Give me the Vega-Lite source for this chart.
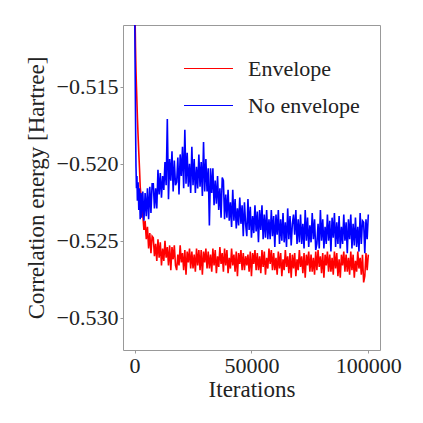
{
"$schema": "https://vega.github.io/schema/vega-lite/v6.json",
"width": 257, "height": 325,
"autosize": {"type": "none"},
"padding": {"left": 123, "top": 25, "right": 43, "bottom": 73},
"config": {
  "view": {"stroke": "#999", "strokeWidth": 1},
  "font": "Liberation Serif",
  "axis": {"grid": false, "domain": false, "tickColor": "#999", "tickSize": 3, "labelFont": "Liberation Serif", "titleFont": "Liberation Serif", "labelFontSize": 22, "titleFontSize": 23, "titleFontWeight": "normal", "labelColor": "#222", "titleColor": "#222", "labelPadding": 2}
},
"data": {"values": [
{"i":0,"a":-0.5080,"b":-0.5080},
{"i":100,"a":-0.5092,"b":-0.5110},
{"i":200,"a":-0.5104,"b":-0.5132},
{"i":300,"a":-0.5115,"b":-0.5150},
{"i":400,"a":-0.5125,"b":-0.5170},
{"i":500,"a":-0.5133,"b":-0.5188},
{"i":600,"a":-0.5140,"b":-0.5202},
{"i":800,"a":-0.5150,"b":-0.5216},
{"i":1000,"a":-0.5160,"b":-0.5208},
{"i":1200,"a":-0.5170,"b":-0.5224},
{"i":1500,"a":-0.5182,"b":-0.5212},
{"i":1800,"a":-0.5193,"b":-0.5230},
{"i":2100,"a":-0.5203,"b":-0.5216},
{"i":2400,"a":-0.5215,"b":-0.5236},
{"i":2700,"a":-0.5220,"b":-0.5219},
{"i":3000,"a":-0.5229,"b":-0.5235},
{"i":3500,"a":-0.5233,"b":-0.5218},
{"i":4000,"a":-0.5243,"b":-0.5237},
{"i":4500,"a":-0.5237,"b":-0.5219},
{"i":5000,"a":-0.5249,"b":-0.5234},
{"i":5500,"a":-0.5241,"b":-0.5216},
{"i":6000,"a":-0.5255,"b":-0.5236},
{"i":6500,"a":-0.5245,"b":-0.5215},
{"i":7000,"a":-0.5258,"b":-0.5232},
{"i":7500,"a":-0.5247,"b":-0.5213},
{"i":8000,"a":-0.5248,"b":-0.5213},
{"i":8500,"a":-0.5260,"b":-0.5229},
{"i":9000,"a":-0.5252,"b":-0.5216},
{"i":9500,"a":-0.5263,"b":-0.5229},
{"i":10000,"a":-0.5249,"b":-0.5204},
{"i":10500,"a":-0.5261,"b":-0.5220},
{"i":11000,"a":-0.5251,"b":-0.5206},
{"i":11500,"a":-0.5266,"b":-0.5222},
{"i":12000,"a":-0.5255,"b":-0.5208},
{"i":12500,"a":-0.5263,"b":-0.5217},
{"i":13000,"a":-0.5250,"b":-0.5199},
{"i":13500,"a":-0.5261,"b":-0.5214},
{"i":14000,"a":-0.5254,"b":-0.5171},
{"i":14500,"a":-0.5266,"b":-0.5223},
{"i":15000,"a":-0.5253,"b":-0.5197},
{"i":15500,"a":-0.5269,"b":-0.5211},
{"i":16000,"a":-0.5254,"b":-0.5192},
{"i":16500,"a":-0.5262,"b":-0.5218},
{"i":17000,"a":-0.5253,"b":-0.5198},
{"i":17500,"a":-0.5266,"b":-0.5214},
{"i":18000,"a":-0.5269,"b":-0.5212},
{"i":18500,"a":-0.5259,"b":-0.5196},
{"i":19000,"a":-0.5266,"b":-0.5220},
{"i":19500,"a":-0.5253,"b":-0.5194},
{"i":20000,"a":-0.5264,"b":-0.5208},
{"i":20500,"a":-0.5258,"b":-0.5189},
{"i":21000,"a":-0.5269,"b":-0.5216},
{"i":21500,"a":-0.5256,"b":-0.5178},
{"i":22000,"a":-0.5272,"b":-0.5213},
{"i":22500,"a":-0.5257,"b":-0.5193},
{"i":23000,"a":-0.5264,"b":-0.5215},
{"i":23500,"a":-0.5255,"b":-0.5200},
{"i":24000,"a":-0.5268,"b":-0.5219},
{"i":24500,"a":-0.5257,"b":-0.5189},
{"i":25000,"a":-0.5268,"b":-0.5214},
{"i":25500,"a":-0.5259,"b":-0.5197},
{"i":26000,"a":-0.5270,"b":-0.5219},
{"i":26500,"a":-0.5255,"b":-0.5202},
{"i":27000,"a":-0.5266,"b":-0.5216},
{"i":27500,"a":-0.5256,"b":-0.5194},
{"i":28000,"a":-0.5269,"b":-0.5215},
{"i":28500,"a":-0.5256,"b":-0.5199},
{"i":29000,"a":-0.5272,"b":-0.5221},
{"i":29500,"a":-0.5257,"b":-0.5186},
{"i":30000,"a":-0.5264,"b":-0.5218},
{"i":30500,"a":-0.5255,"b":-0.5197},
{"i":31000,"a":-0.5268,"b":-0.5218},
{"i":31500,"a":-0.5257,"b":-0.5203},
{"i":32000,"a":-0.5268,"b":-0.5240},
{"i":32500,"a":-0.5259,"b":-0.5203},
{"i":33000,"a":-0.5270,"b":-0.5219},
{"i":33500,"a":-0.5255,"b":-0.5203},
{"i":34000,"a":-0.5266,"b":-0.5227},
{"i":34500,"a":-0.5256,"b":-0.5211},
{"i":35000,"a":-0.5271,"b":-0.5226},
{"i":35500,"a":-0.5260,"b":-0.5208},
{"i":36000,"a":-0.5267,"b":-0.5230},
{"i":36500,"a":-0.5254,"b":-0.5216},
{"i":37000,"a":-0.5265,"b":-0.5235},
{"i":37500,"a":-0.5258,"b":-0.5209},
{"i":38000,"a":-0.5270,"b":-0.5211},
{"i":38500,"a":-0.5255,"b":-0.5236},
{"i":39000,"a":-0.5266,"b":-0.5220},
{"i":39500,"a":-0.5256,"b":-0.5235},
{"i":40000,"a":-0.5271,"b":-0.5217},
{"i":40500,"a":-0.5261,"b":-0.5237},
{"i":41000,"a":-0.5268,"b":-0.5225},
{"i":41500,"a":-0.5255,"b":-0.5241},
{"i":42000,"a":-0.5266,"b":-0.5217},
{"i":42500,"a":-0.5259,"b":-0.5237},
{"i":43000,"a":-0.5270,"b":-0.5223},
{"i":43500,"a":-0.5257,"b":-0.5242},
{"i":44000,"a":-0.5273,"b":-0.5229},
{"i":44500,"a":-0.5258,"b":-0.5240},
{"i":45000,"a":-0.5265,"b":-0.5222},
{"i":45500,"a":-0.5256,"b":-0.5239},
{"i":46000,"a":-0.5269,"b":-0.5227},
{"i":46500,"a":-0.5258,"b":-0.5247},
{"i":47000,"a":-0.5269,"b":-0.5225},
{"i":47500,"a":-0.5260,"b":-0.5239},
{"i":48000,"a":-0.5266,"b":-0.5247},
{"i":48500,"a":-0.5259,"b":-0.5223},
{"i":49000,"a":-0.5270,"b":-0.5243},
{"i":49500,"a":-0.5257,"b":-0.5228},
{"i":50000,"a":-0.5273,"b":-0.5248},
{"i":50500,"a":-0.5258,"b":-0.5234},
{"i":51000,"a":-0.5265,"b":-0.5245},
{"i":51500,"a":-0.5256,"b":-0.5227},
{"i":52000,"a":-0.5269,"b":-0.5244},
{"i":52500,"a":-0.5258,"b":-0.5231},
{"i":53000,"a":-0.5269,"b":-0.5251},
{"i":53500,"a":-0.5260,"b":-0.5230},
{"i":54000,"a":-0.5271,"b":-0.5243},
{"i":54500,"a":-0.5256,"b":-0.5227},
{"i":55000,"a":-0.5267,"b":-0.5249},
{"i":55500,"a":-0.5257,"b":-0.5233},
{"i":56000,"a":-0.5272,"b":-0.5248},
{"i":56500,"a":-0.5261,"b":-0.5230},
{"i":57000,"a":-0.5268,"b":-0.5249},
{"i":57500,"a":-0.5255,"b":-0.5236},
{"i":58000,"a":-0.5265,"b":-0.5249},
{"i":58500,"a":-0.5256,"b":-0.5230},
{"i":59000,"a":-0.5269,"b":-0.5247},
{"i":59500,"a":-0.5258,"b":-0.5234},
{"i":60000,"a":-0.5269,"b":-0.5254},
{"i":60500,"a":-0.5261,"b":-0.5233},
{"i":61000,"a":-0.5272,"b":-0.5246},
{"i":61500,"a":-0.5257,"b":-0.5230},
{"i":62000,"a":-0.5268,"b":-0.5252},
{"i":62500,"a":-0.5258,"b":-0.5236},
{"i":63000,"a":-0.5273,"b":-0.5250},
{"i":63500,"a":-0.5262,"b":-0.5232},
{"i":64000,"a":-0.5269,"b":-0.5251},
{"i":64500,"a":-0.5256,"b":-0.5238},
{"i":65000,"a":-0.5267,"b":-0.5254},
{"i":65500,"a":-0.5260,"b":-0.5229},
{"i":66000,"a":-0.5271,"b":-0.5249},
{"i":66500,"a":-0.5258,"b":-0.5234},
{"i":67000,"a":-0.5274,"b":-0.5253},
{"i":67500,"a":-0.5259,"b":-0.5239},
{"i":68000,"a":-0.5268,"b":-0.5233},
{"i":68500,"a":-0.5258,"b":-0.5246},
{"i":69000,"a":-0.5273,"b":-0.5230},
{"i":69500,"a":-0.5262,"b":-0.5252},
{"i":70000,"a":-0.5269,"b":-0.5236},
{"i":70500,"a":-0.5256,"b":-0.5251},
{"i":71000,"a":-0.5267,"b":-0.5233},
{"i":71500,"a":-0.5260,"b":-0.5252},
{"i":72000,"a":-0.5271,"b":-0.5239},
{"i":72500,"a":-0.5258,"b":-0.5255},
{"i":73000,"a":-0.5274,"b":-0.5230},
{"i":73500,"a":-0.5259,"b":-0.5250},
{"i":74000,"a":-0.5266,"b":-0.5235},
{"i":74500,"a":-0.5257,"b":-0.5254},
{"i":75000,"a":-0.5270,"b":-0.5240},
{"i":75500,"a":-0.5259,"b":-0.5251},
{"i":76000,"a":-0.5270,"b":-0.5232},
{"i":76500,"a":-0.5261,"b":-0.5249},
{"i":77000,"a":-0.5272,"b":-0.5236},
{"i":77500,"a":-0.5257,"b":-0.5256},
{"i":78000,"a":-0.5269,"b":-0.5252},
{"i":78500,"a":-0.5256,"b":-0.5239},
{"i":79000,"a":-0.5267,"b":-0.5255},
{"i":79500,"a":-0.5260,"b":-0.5230},
{"i":80000,"a":-0.5271,"b":-0.5250},
{"i":80500,"a":-0.5258,"b":-0.5236},
{"i":81000,"a":-0.5274,"b":-0.5255},
{"i":81500,"a":-0.5259,"b":-0.5241},
{"i":82000,"a":-0.5266,"b":-0.5252},
{"i":82500,"a":-0.5257,"b":-0.5233},
{"i":83000,"a":-0.5270,"b":-0.5250},
{"i":83500,"a":-0.5259,"b":-0.5237},
{"i":84000,"a":-0.5270,"b":-0.5257},
{"i":84500,"a":-0.5261,"b":-0.5235},
{"i":85000,"a":-0.5272,"b":-0.5248},
{"i":85500,"a":-0.5257,"b":-0.5232},
{"i":86000,"a":-0.5268,"b":-0.5254},
{"i":86500,"a":-0.5258,"b":-0.5238},
{"i":87000,"a":-0.5273,"b":-0.5252},
{"i":87500,"a":-0.5262,"b":-0.5234},
{"i":88000,"a":-0.5274,"b":-0.5255},
{"i":88500,"a":-0.5259,"b":-0.5241},
{"i":89000,"a":-0.5266,"b":-0.5252},
{"i":89500,"a":-0.5257,"b":-0.5233},
{"i":90000,"a":-0.5270,"b":-0.5250},
{"i":90500,"a":-0.5259,"b":-0.5238},
{"i":91000,"a":-0.5270,"b":-0.5258},
{"i":91500,"a":-0.5261,"b":-0.5236},
{"i":92000,"a":-0.5272,"b":-0.5249},
{"i":92500,"a":-0.5257,"b":-0.5233},
{"i":93000,"a":-0.5269,"b":-0.5255},
{"i":93500,"a":-0.5259,"b":-0.5239},
{"i":94000,"a":-0.5274,"b":-0.5253},
{"i":94500,"a":-0.5263,"b":-0.5235},
{"i":95000,"a":-0.5270,"b":-0.5254},
{"i":95500,"a":-0.5257,"b":-0.5241},
{"i":96000,"a":-0.5268,"b":-0.5257},
{"i":96500,"a":-0.5261,"b":-0.5232},
{"i":97000,"a":-0.5272,"b":-0.5252},
{"i":97500,"a":-0.5259,"b":-0.5237},
{"i":98000,"a":-0.5277,"b":-0.5238},
{"i":98500,"a":-0.5273,"b":-0.5258},
{"i":99000,"a":-0.5258,"b":-0.5236},
{"i":99500,"a":-0.5269,"b":-0.5249},
{"i":100000,"a":-0.5259,"b":-0.5233}
]},
"transform": [{"fold": ["a", "b"], "as": ["k", "v"]}],
"mark": {"type": "line", "strokeWidth": 1.6, "clip": true},
"encoding": {
  "x": {"field": "i", "type": "quantitative", "sort": null,
        "scale": {"domain": [-4960, 105000], "nice": false, "zero": false},
        "axis": {"values": [0, 50000, 100000], "format": "d", "title": "Iterations", "titlePadding": 2}},
  "y": {"field": "v", "type": "quantitative",
        "scale": {"domain": [-0.53208, -0.51101], "nice": false, "zero": false},
        "axis": {"values": [-0.530, -0.525, -0.520, -0.515], "format": ".3f", "title": "Correlation energy [Hartree]", "titlePadding": 8}},
  "color": {"field": "k", "type": "nominal",
            "scale": {"domain": ["a", "b"], "range": ["#ff0000", "#0000ff"]},
            "legend": {"title": null, "orient": "none", "legendX": 60, "legendY": 18, "symbolType": "stroke", "symbolSize": 2400, "symbolStrokeWidth": 1.2, "labelFontSize": 22, "labelFont": "Liberation Serif", "labelColor": "#222", "labelOffset": 14, "rowPadding": 0, "padding": 0, "labelExpr": "datum.label == 'a' ? 'Envelope' : 'No envelope'"}}
}
}
